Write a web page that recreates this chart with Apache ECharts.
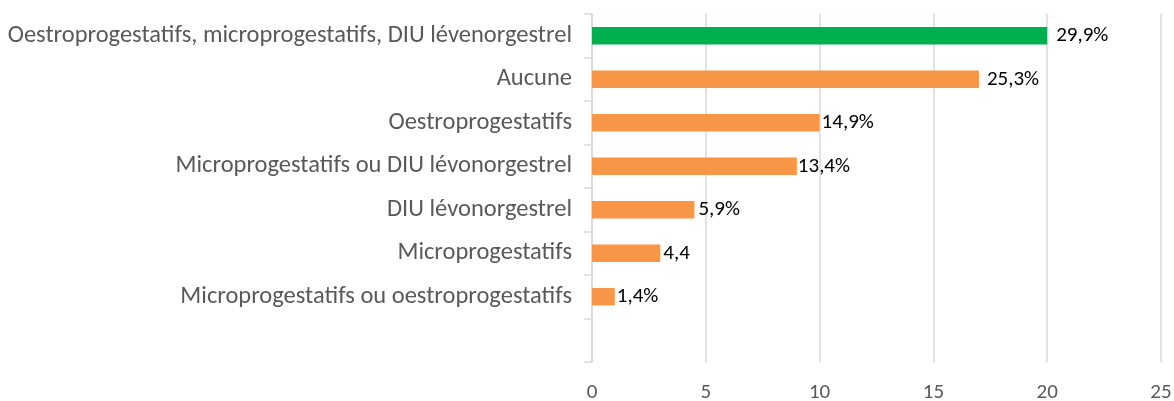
<!DOCTYPE html>
<html>
<head>
<meta charset="utf-8">
<script src="https://cdn.jsdelivr.net/npm/echarts@6/dist/echarts.min.js"></script>
<style>
  html, body { margin: 0; padding: 0; background: #fff; }
  #chart { width: 1174px; height: 401px; }
</style>
</head>
<body>
<div id="chart"></div>
<script>
// catégories (de haut en bas)
var categories = [
  'Oestroprogestatifs, microprogestatifs, DIU lévenorgestrel',
  'Aucune',
  'Oestroprogestatifs',
  'Microprogestatifs ou DIU lévonorgestrel',
  'DIU lévonorgestrel',
  'Microprogestatifs',
  'Microprogestatifs ou oestroprogestatifs'
];
var barValues = [20, 17, 10, 9, 4.5, 3, 1];
// étiquettes affichées
var valueLabels = ['29,9%', '25,3%', '14,9%', '13,4%', '5,9%', '4,4', '1,4%'];
var xTicks = [0, 5, 10, 15, 20, 25];

var labelGaps = [9, 8, 2, 1, 4, 3, 2];
var fontFam = 'Carlito, Lato, sans-serif';

var myChart = echarts.init(document.getElementById('chart'));

var seriesData = barValues.map(function (v, i) {
  return {
    value: v,
    itemStyle: { color: i === 0 ? '#00B050' : '#F79646' },
    label: { distance: labelGaps[i] }
  };
});
seriesData.push('-'); // case vide en bas

var option = {
  animation: false,
  grid: { left: 592, right: 13, top: 14, bottom: 39, containLabel: false, outerBoundsMode: 'none' },
  xAxis: {
    type: 'value',
    min: xTicks[0],
    max: xTicks[xTicks.length - 1],
    interval: 5,
    axisLine: { show: false },
    axisTick: { show: false },
    splitLine: { show: true, lineStyle: { color: '#d9d9d9', width: 1.5 } },
    axisLabel: { color: '#595959', fontSize: 21, fontFamily: fontFam, margin: 31, verticalAlign: 'middle', lineHeight: 21 }
  },
  yAxis: {
    type: 'category',
    inverse: true,
    data: categories.concat(['']),
    axisLine: { show: true, lineStyle: { color: '#d9d9d9', width: 1.5 } },
    axisTick: { show: true, length: 8, lineStyle: { color: '#d9d9d9', width: 1.5 } },
    axisLabel: { color: '#595959', fontSize: 24.5, fontFamily: fontFam, margin: 20 }
  },
  series: [{
    type: 'bar',
    data: seriesData,
    barCategoryGap: '60%',
    label: {
      show: true,
      position: 'right',
      color: '#000',
      fontSize: 21,
      fontFamily: fontFam,
      formatter: function (p) { return valueLabels[p.dataIndex]; }
    }
  }]
};
myChart.setOption(option);
</script>
</body>
</html>
